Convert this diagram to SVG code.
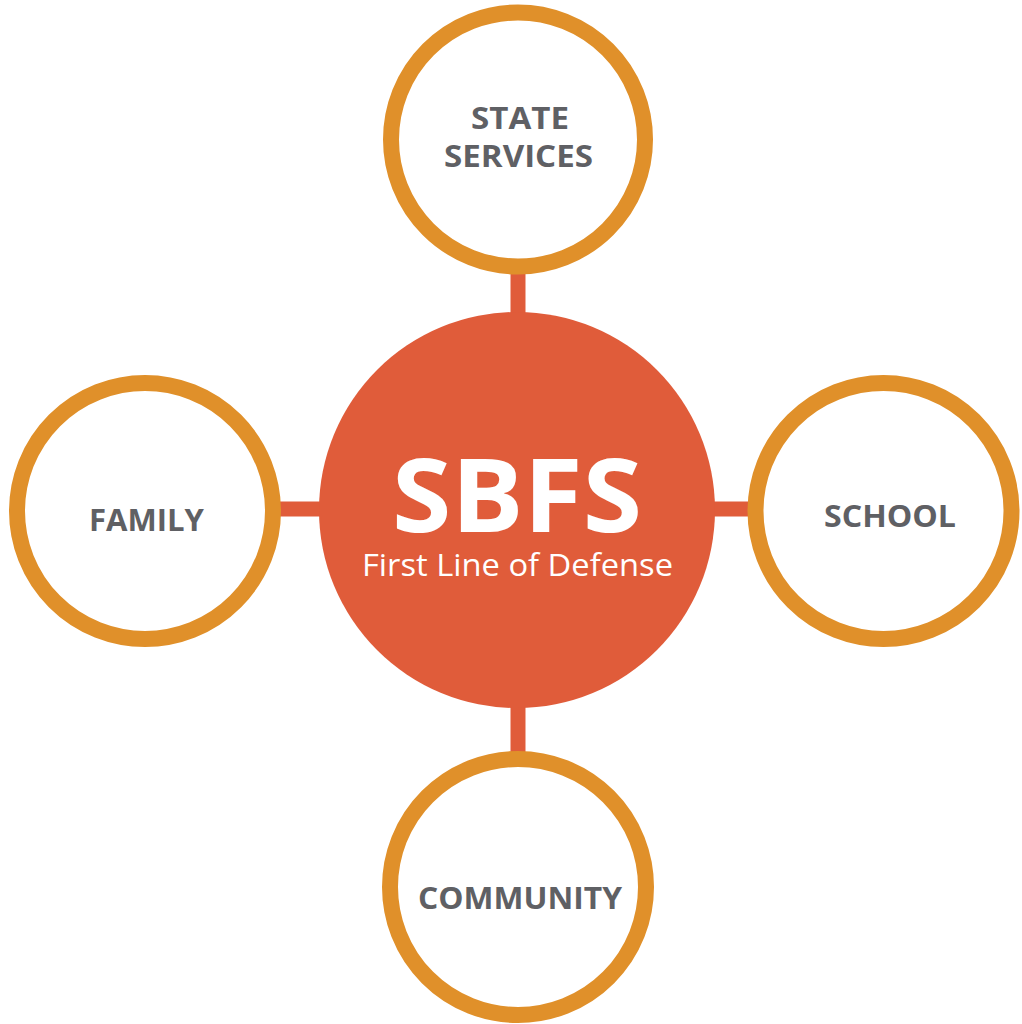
<svg xmlns="http://www.w3.org/2000/svg" width="1022" height="1024" viewBox="0 0 1022 1024">
<style>
.ring{fill:#ffffff;stroke:#E0902A;stroke-width:16}
.link{stroke:#E05C3A;stroke-width:15}
.lbl{font-family:"Open Sans","Liberation Sans",sans-serif;font-weight:700;font-size:30px;fill:#5F6064;text-anchor:middle}
.big{font-family:"Open Sans","Liberation Sans",sans-serif;font-weight:700;font-size:103px;fill:#ffffff;text-anchor:middle}
.sub{font-family:"Open Sans","Liberation Sans",sans-serif;font-weight:400;font-size:31px;fill:#ffffff;text-anchor:middle}
</style>
<rect width="1022" height="1024" fill="#ffffff"/>
<g id="connectors">
<line class="link" x1="518" y1="270" x2="518" y2="320"/>
<line class="link" x1="277" y1="509" x2="325" y2="509"/>
<line class="link" x1="708" y1="509" x2="755" y2="509"/>
<line class="link" x1="518" y1="700" x2="518" y2="757"/>
</g>
<g id="center">
<circle cx="517" cy="510" r="198" fill="#E05C3A"/>
<text class="big" x="517" y="532" textLength="250" lengthAdjust="spacingAndGlyphs">SBFS</text>
<text class="sub" x="517.5" y="576" textLength="311" lengthAdjust="spacingAndGlyphs">First Line of Defense</text>
</g>
<g id="state-services">
<circle class="ring" cx="518" cy="139.5" r="127"/>
<text class="lbl" x="520" y="129" textLength="98" lengthAdjust="spacingAndGlyphs">STATE</text>
<text class="lbl" x="518.5" y="167" textLength="149" lengthAdjust="spacingAndGlyphs">SERVICES</text>
</g>
<g id="family">
<circle class="ring" cx="145" cy="511" r="128"/>
<text class="lbl" x="146.5" y="531" textLength="115" lengthAdjust="spacingAndGlyphs">FAMILY</text>
</g>
<g id="school">
<circle class="ring" cx="883.5" cy="511" r="128"/>
<text class="lbl" x="890" y="527" textLength="132" lengthAdjust="spacingAndGlyphs">SCHOOL</text>
</g>
<g id="community">
<circle class="ring" cx="518" cy="887" r="128"/>
<text class="lbl" x="520" y="909" textLength="204" lengthAdjust="spacingAndGlyphs">COMMUNITY</text>
</g>
</svg>
